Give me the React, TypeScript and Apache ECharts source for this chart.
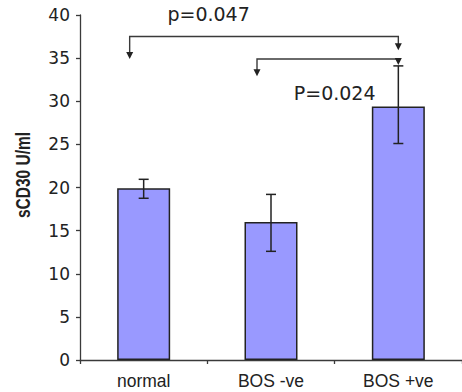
import React, { useEffect, useRef } from 'react';
import * as echarts from 'echarts';

const categories = ['normal', 'BOS -ve', 'BOS +ve'];
const meanValues = [19.9, 16.0, 29.4];
const errorLow = [18.75, 12.6, 25.1];
const errorHigh = [20.95, 19.2, 34.1];

const yMin = 0;
const yMax = 40;
const yStep = 5;

const bracketFrom = [0, 1];
const bracketTo = [2, 2];
const bracketLevel = [37.5, 34.9];
const bracketFromTip = [34.9, 32.9];
const bracketToTip = [35.9, 34.2];

const pLabels = ['p=0.047', 'P=0.024'];
const pLabelCat = [0.51, 1.5];
const pLabelValue = [40.1, 31.0];

const yAxisTitle = 'sCD30 U/ml';

const INK = '#222';
const LINE = '#3a3a3a';
const LEFT_OFFSET = -14;
const ARROW_LEN = 7;
const ARROW_HALF = 3.5;

export default function App() {
  const ref = useRef<HTMLDivElement>(null);

  useEffect(() => {
    if (!ref.current) return;
    const chart = echarts.init(ref.current, undefined, { renderer: 'svg' });

    const arrow = (x: number, tip: number) => ({
      type: 'polygon',
      shape: {
        points: [
          [x - ARROW_HALF, tip - ARROW_LEN],
          [x + ARROW_HALF, tip - ARROW_LEN],
          [x, tip],
        ],
      },
      style: { fill: INK },
    });

    const option: any = {
      animation: false,
      grid: { left: 80, right: -3, top: 15, bottom: 32, containLabel: false },
      xAxis: {
        type: 'category',
        data: categories,
        axisLine: { lineStyle: { color: LINE, width: 1.3 } },
        axisTick: { show: true, length: 4, lineStyle: { color: LINE, width: 1.3 } },
        axisLabel: {
          color: INK,
          fontFamily: '"Liberation Sans", Arial, sans-serif',
          fontSize: 17.5,
          margin: 12,
        },
        splitLine: { show: false },
      },
      yAxis: {
        type: 'value',
        min: yMin,
        max: yMax,
        interval: yStep,
        axisLine: { show: true, lineStyle: { color: LINE, width: 1.3 } },
        axisTick: { show: true, length: 4, lineStyle: { color: LINE, width: 1.3 } },
        axisLabel: {
          color: INK,
          fontFamily: '"DejaVu Sans", sans-serif',
          fontSize: 17,
          margin: 10,
        },
        splitLine: { show: false },
      },
      graphic: [
        {
          type: 'text',
          x: 23,
          y: 175,
          rotation: Math.PI / 2,
          scaleY: 1.3,
          style: {
            text: yAxisTitle,
            fill: INK,
            fontFamily: '"Liberation Sans", Arial, sans-serif',
            fontWeight: 'bold',
            fontSize: 15.5,
            align: 'center',
            verticalAlign: 'middle',
          },
        },
      ],
      series: [
        {
          type: 'bar',
          data: meanValues,
          barWidth: 53,
          itemStyle: { color: '#9999ff', borderColor: INK, borderWidth: 1.5 },
          z: 2,
        },
        {
          type: 'custom',
          z: 5,
          clip: false,
          encode: { x: 0, y: [1, 2] },
          data: categories.map((_, i) => [i, errorLow[i], errorHigh[i]]),
          renderItem: (params: any, api: any) => {
            const x = api.value(0);
            const lo = api.coord([x, api.value(1)]);
            const hi = api.coord([x, api.value(2)]);
            const hw = 5;
            const st = { stroke: INK, lineWidth: 1.5 };
            return {
              type: 'group',
              children: [
                { type: 'line', shape: { x1: lo[0], y1: lo[1], x2: hi[0], y2: hi[1] }, style: st },
                { type: 'line', shape: { x1: lo[0] - hw, y1: lo[1], x2: lo[0] + hw, y2: lo[1] }, style: st },
                { type: 'line', shape: { x1: hi[0] - hw, y1: hi[1], x2: hi[0] + hw, y2: hi[1] }, style: st },
              ],
            };
          },
        },
        {
          type: 'custom',
          z: 6,
          clip: false,
          encode: { x: 0, y: 2 },
          data: bracketFrom.map((f, i) => [f, bracketTo[i], bracketLevel[i], bracketFromTip[i], bracketToTip[i]]),
          renderItem: (params: any, api: any) => {
            const xL = api.coord([api.value(0), 0])[0] + LEFT_OFFSET;
            const xR = api.coord([api.value(1), 0])[0];
            const yLev = api.coord([0, api.value(2)])[1];
            const yLT = api.coord([0, api.value(3)])[1];
            const yRT = api.coord([0, api.value(4)])[1];
            return {
              type: 'group',
              children: [
                {
                  type: 'polyline',
                  shape: {
                    points: [
                      [xL, yLT - ARROW_LEN + 1],
                      [xL, yLev],
                      [xR, yLev],
                      [xR, Math.max(yLev, yRT - ARROW_LEN + 1)],
                    ],
                  },
                  style: { stroke: LINE, lineWidth: 1.4, fill: 'none' },
                },
                arrow(xL, yLT),
                arrow(xR, yRT),
              ],
            };
          },
        },
        {
          type: 'custom',
          z: 7,
          clip: false,
          encode: { x: 0, y: 1 },
          data: pLabelValue.map((v) => [0, v]),
          renderItem: (params: any, api: any) => {
            const i = params.dataIndex;
            const band = api.size([1, 0])[0];
            const base = api.coord([0, api.value(1)]);
            return {
              type: 'text',
              x: base[0] + pLabelCat[i] * band,
              y: base[1],
              style: {
                text: pLabels[i],
                fill: INK,
                fontFamily: '"DejaVu Sans", sans-serif',
                fontSize: 19,
                align: 'center',
                verticalAlign: 'middle',
              },
            };
          },
        },
      ],
    };

    chart.setOption(option);
    return () => chart.dispose();
  }, []);

  return (
    <div
      ref={ref}
      style={{ position: 'fixed', left: 0, top: 0, width: 462, height: 392, background: '#fff' }}
    />
  );
}
